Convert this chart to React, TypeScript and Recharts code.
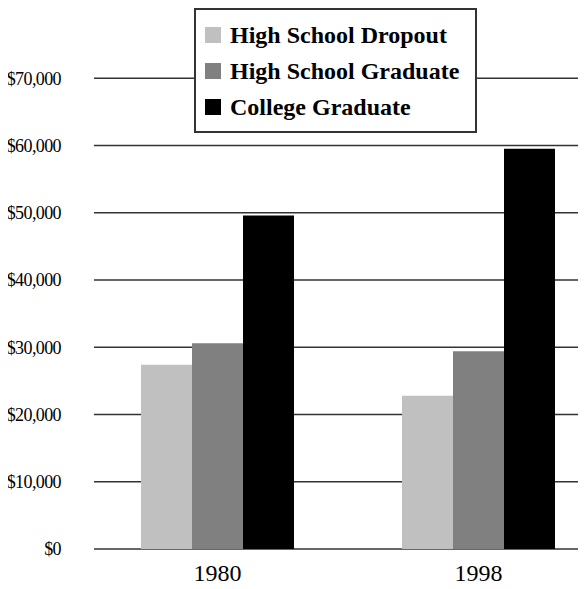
import React from 'react';
import { BarChart, Bar, XAxis, YAxis, CartesianGrid, Legend } from 'recharts';

const years = ['1980', '1998'];
const dropout = [27400, 22800];
const hsGraduate = [30600, 29400];
const collegeGraduate = [49600, 59500];
const yTicks = [0, 10000, 20000, 30000, 40000, 50000, 60000, 70000];

const seriesNames = ['High School Dropout', 'High School Graduate', 'College Graduate'];
const seriesColors = ['#c0c0c0', '#808080', '#000000'];

const data = years.map((y, i) => ({
  year: y,
  dropout: dropout[i],
  hsGraduate: hsGraduate[i],
  collegeGraduate: collegeGraduate[i],
}));

const serif = '"Liberation Serif", "DejaVu Serif", serif';

const fmt = (v: number) => '$' + v.toLocaleString('en-US');

const LegendBox = () => (
  <div
    style={{
      boxSizing: 'border-box',
      width: 283,
      height: 125,
      border: '2px solid #333',
      background: '#fff',
      paddingTop: 7,
      fontFamily: serif,
      fontWeight: 'bold',
      fontSize: 24,
      lineHeight: '36px',
      color: '#000',
      textAlign: 'left',
    }}
  >
    {seriesNames.map((n, i) => (
      <div key={n} style={{ display: 'flex', alignItems: 'center', height: 36 }}>
        <span
          style={{
            display: 'inline-block',
            width: 16,
            height: 16,
            marginLeft: 9,
            marginRight: 9,
            background: seriesColors[i],
          }}
        />
        <span>{n}</span>
      </div>
    ))}
  </div>
);

export default function App() {
  return (
    <BarChart
      width={578}
      height={581}
      data={data}
      margin={{ top: 3, right: 0, left: 0, bottom: 10 }}
      barCategoryGap={54}
      barGap={0}
    >
      <CartesianGrid
        horizontal
        vertical={false}
        horizontalValues={yTicks}
        stroke="#333"
        strokeWidth={1.5}
      />
      <XAxis
        dataKey="year"
        axisLine={false}
        tickLine={false}
        tickSize={0}
        tickMargin={15}
        height={30}
        padding={{ left: -7, right: -23 }}
        tick={{ fontFamily: serif, fontSize: 24, fill: '#000' }}
      />
      <YAxis
        width={86}
        domain={[0, 80000]}
        ticks={yTicks}
        axisLine={false}
        tickLine={false}
        tickSize={0}
        tickMargin={33}
        tickFormatter={fmt}
        tick={{ fontFamily: serif, fontSize: 18, fill: '#000', letterSpacing: -0.6 }}
      />
      <Legend
        layout="vertical"
        align="center"
        verticalAlign="middle"
        content={() => <LegendBox />}
        wrapperStyle={{ top: 0, left: 186, width: 283, height: 125 }}
      />
      <Bar dataKey="dropout" name={seriesNames[0]} fill={seriesColors[0]} isAnimationActive={false} />
      <Bar dataKey="hsGraduate" name={seriesNames[1]} fill={seriesColors[1]} isAnimationActive={false} />
      <Bar dataKey="collegeGraduate" name={seriesNames[2]} fill={seriesColors[2]} isAnimationActive={false} />
    </BarChart>
  );
}
